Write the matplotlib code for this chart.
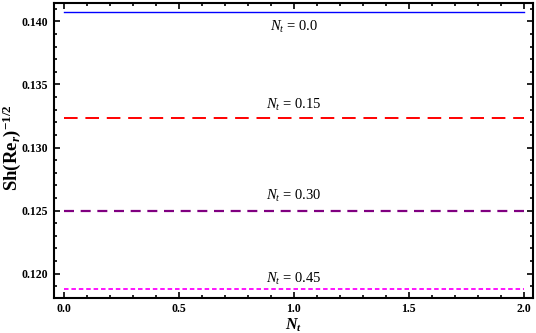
import numpy as np
from matplotlib import pyplot as plt
from matplotlib.ticker import MultipleLocator

plt.rcParams['font.family'] = ['Liberation Serif', 'DejaVu Serif']
plt.rcParams['mathtext.fontset'] = 'custom'
plt.rcParams['mathtext.rm'] = 'Liberation Serif'
plt.rcParams['mathtext.it'] = 'Liberation Serif:italic'
plt.rcParams['mathtext.bf'] = 'Liberation Serif:bold'
plt.rcParams['mathtext.bfit'] = 'Liberation Serif:bold:italic'

# data
x_range = [0.0, 2.0]
nt_labels = ['0.0', '0.15', '0.30', '0.45']
sh_values = [0.14071, 0.13230, 0.12498, 0.11876]
colors = ['#0000ff', '#ff0000', '#800080', '#ff00ff']
dash_styles = [None, (7, 4), (4.5, 3), (2.5, 1.6)]
widths = [1.0, 1.4, 1.6, 1.3]
label_y = [0.13958, 0.13338, 0.1262, 0.11958]

fig = plt.figure(figsize=(5.36, 3.33), dpi=100)
ax = fig.add_axes([54/536, 1-297.7/333, (533-54)/536, (297.7-3)/333])

for i in range(len(sh_values)):
    xs = np.array(x_range)
    ys = np.full(len(xs), sh_values[i])
    line, = ax.plot(xs, ys, color=colors[i], lw=widths[i])
    if dash_styles[i] is not None:
        line.set_dashes(dash_styles[i])
    ax.text(1.0, label_y[i], r'$N_t$ = ' + nt_labels[i], ha='center', va='center',
            fontsize=10.5)

ax.set_xlim(-0.042, 2.04)
ax.set_ylim(0.11810, 0.14145)
ax.xaxis.set_major_locator(MultipleLocator(0.5))
ax.xaxis.set_minor_locator(MultipleLocator(0.1))
ax.yaxis.set_major_locator(MultipleLocator(0.005))
ax.yaxis.set_minor_locator(MultipleLocator(0.001))
ax.xaxis.set_major_formatter(plt.FuncFormatter(lambda v, p: '%.1f' % v))
ax.yaxis.set_major_formatter(plt.FuncFormatter(lambda v, p: '%.3f' % v))
ax.tick_params(which='both', direction='in', top=True, right=True, width=1.2)
ax.tick_params(which='major', length=4, labelsize=8.5, pad=4)
ax.tick_params(which='minor', length=2.5)
for lab in ax.get_xticklabels() + ax.get_yticklabels():
    lab.set_fontweight('bold')
for sp in ax.spines.values():
    sp.set_linewidth(1.5)

ax.set_xlabel(r'$\mathbfit{N}_{\mathbfit{t}}$', fontsize=11.5)
ax.xaxis.set_label_coords(0.5, -0.063)
ax.set_ylabel(r'$\mathbf{Sh(Re}_{\mathbfit{r}}\mathbf{)}^{\mathbf{-1/2}}$', fontsize=13.5)
ax.yaxis.set_label_coords(-0.064, 0.51)

plt.savefig('out.png', dpi=100)
